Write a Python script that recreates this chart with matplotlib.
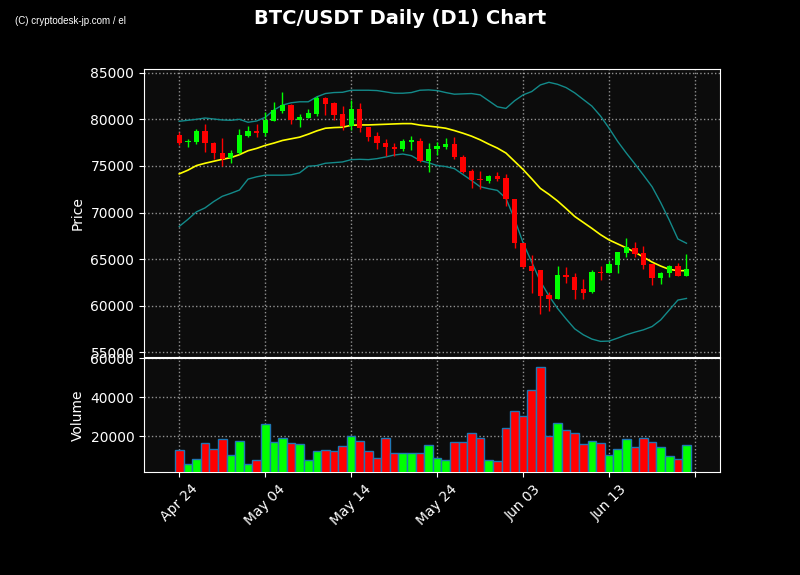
import matplotlib
matplotlib.use("Agg")
import matplotlib.pyplot as plt
import numpy as np

# ---------------- data ----------------
opens = [78330, 77540, 77590, 78760, 77480, 76410, 75850, 76340, 78260, 78760,
         78580, 79860, 80890, 81530, 79970, 80180, 80600, 82270, 81740, 80570,
         79330, 81100, 79180, 78230, 77480, 77060, 76840, 77520, 77690, 75490,
         76790, 77070, 77360, 75930, 74460, 73610, 73390, 73930, 73720, 71470,
         66750, 64220, 63860, 61110, 60760, 63310, 63100, 61760, 61450, 63630,
         63520, 64370, 65630, 66230, 65670, 64470, 62920, 63490, 64260, 63240]
highs = [78615, 77870, 78970, 79470, 77550, 77980, 76700, 78940, 79250, 79470,
         80750, 81810, 82880, 81600, 80570, 81070, 82520, 82380, 81810, 81420,
         82060, 81700, 79220, 78620, 77870, 77450, 77870, 78190, 77980, 77450,
         77540, 77960, 78070, 76140, 74640, 74500, 74040, 74320, 74110, 71470,
         66750, 65470, 63860, 61470, 64290, 64120, 63490, 62850, 63840, 64300,
         64750, 65740, 67220, 66870, 66370, 64470, 63660, 64400, 64540, 65600]
lows = [77270, 77030, 77340, 76490, 75780, 75000, 75350, 76270, 78080, 78120,
        78190, 79790, 80710, 79470, 79150, 80110, 80360, 80430, 79900, 78830,
        78870, 78690, 77620, 76770, 76030, 76100, 76560, 76700, 75420, 74350,
        76210, 76860, 75710, 74220, 72610, 72500, 73220, 73360, 70680, 66180,
        64000, 61360, 59150, 59400, 60760, 62430, 60710, 60670, 61410, 62710,
        63500, 63560, 65250, 65250, 63910, 62220, 62360, 63130, 63240, 63240]
closes = [77410, 77690, 78760, 77410, 76340, 75780, 76410, 78330, 78760, 78550,
          79930, 81000, 81530, 79930, 80250, 80680, 82270, 81670, 80500, 79330,
          81100, 79110, 78150, 77410, 76990, 76840, 77620, 77730, 75490, 76840,
          77140, 77360, 75930, 74390, 73540, 73470, 73930, 73640, 71430, 66680,
          64110, 63760, 61010, 60760, 63330, 63030, 61660, 61410, 63630, 63560,
          64510, 65740, 66270, 65530, 64400, 62920, 63560, 64260, 63240, 63940]
volumes = [12830, 5640, 8210, 16420, 13510, 18470, 10260, 17440, 5990, 7700,
           26160, 16930, 18980, 16420, 15900, 7700, 12310, 12830, 12310, 14880,
           20010, 17440, 12310, 8720, 18980, 11290, 11290, 11290, 11290, 15390,
           8720, 7700, 16930, 16930, 21550, 18980, 7700, 7180, 24110, 32830,
           30270, 43610, 55400, 20010, 26680, 23090, 21550, 15900, 17440, 16420,
           10260, 13340, 18470, 14360, 18980, 16930, 14360, 9750, 8210, 15390]
bb_mid = [74149, 74539, 75036, 75284, 75497, 75709, 75887, 76206, 76631, 76879,
          77199, 77447, 77730, 77908, 78085, 78404, 78759, 79043, 79114, 79149,
          79362, 79397, 79397, 79433, 79468, 79504, 79539, 79539, 79380, 79270,
          79170, 79043, 78794, 78510, 78191, 77801, 77340, 76914, 76383, 75497,
          74610, 73617, 72589, 71950, 71241, 70426, 69575, 68937, 68298, 67625,
          67057, 66632, 66206, 65745, 65213, 64681, 64255, 63901, 63759, 63759]
bb_upper = [79787, 79894, 80000, 80140, 80035, 79930, 79894, 80000, 79680, 79820,
            80213, 80993, 81525, 81773, 81880, 81880, 82411, 82766, 82872, 82900,
            83120, 83120, 83120, 83085, 82943, 82800, 82800, 82872, 83120, 83156,
            83085, 82872, 82695, 82730, 82766, 82624, 81986, 81347, 81170, 81986,
            82624, 82979, 83688, 83972, 83759, 83404, 82837, 82128, 81418, 80355,
            79043, 77625, 76383, 75213, 74007, 72766, 71064, 69185, 67163, 66702]
bb_lower = [68511, 69256, 70071, 70497, 71170, 71738, 72057, 72411, 73582, 73830,
            74007, 74007, 74007, 74042, 74255, 74964, 75035, 75284, 75355, 75426,
            75674, 75709, 75674, 75780, 75958, 76170, 76277, 76099, 75585, 75337,
            75036, 74929, 74716, 74078, 73440, 72766, 72553, 72376, 71525, 69291,
            66738, 64681, 62624, 61064, 59716, 58582, 57518, 56880, 56419, 56171,
            56206, 56525, 56880, 57164, 57412, 57766, 58475, 59539, 60603, 60780]
tick_idx = [0, 10, 20, 30, 40, 50, 60]
tick_labels = ["Apr 24", "May 04", "May 14", "May 24", "Jun 03", "Jun 13", ""]
price_ticks = [55000, 60000, 65000, 70000, 75000, 80000, 85000]
volume_ticks = [20000, 40000, 60000]

# ---------------- style ----------------
UP = "#00ff00"
DOWN = "#ff0000"
AX_BG = "#0c0c0c"

idx = np.arange(len(opens))
o = np.array(opens); c = np.array(closes)
h = np.array(highs); l = np.array(lows)
cols = [UP if cc >= oo else DOWN for oo, cc in zip(o, c)]

fig = plt.figure(figsize=(8, 5.75), dpi=100, facecolor="black")
ax1 = fig.add_axes([0.18, 0.37965, 0.72, 0.4998])
ax2 = fig.add_axes([0.18, 0.17861, 0.72, 0.19965], sharex=ax1)

for ax in (ax1, ax2):
    ax.set_facecolor(AX_BG)
    for s in ax.spines.values():
        s.set_color("white")
    ax.tick_params(colors="white", labelsize=10)
    ax.grid(True, color="white", linestyle=":", linewidth=1, alpha=0.55)
    ax.set_axisbelow(True)

# Bollinger bands and SMA
ax1.plot(idx, bb_upper, color="#138a8a", lw=1, zorder=2)
ax1.plot(idx, bb_lower, color="#138a8a", lw=1, zorder=2)
ax1.plot(idx, bb_mid, color="#ffff00", lw=1.2, zorder=2)

# candles
ax1.vlines(idx, l, h, colors=cols, lw=1, zorder=3)
body_h = np.maximum(np.abs(c - o), 60)
ax1.bar(idx, body_h, bottom=np.minimum(o, c), width=0.62, color=cols, lw=0, zorder=4)

ax1.set_ylim(54528, 85365)
ax1.set_yticks(price_ticks)
ax1.set_ylabel("Price", color="white", fontsize=10)
ax1.tick_params(labelbottom=False)

# volume
ax2.bar(idx, volumes, width=1.0, color=cols, edgecolor="#1f77b4", lw=1, zorder=3)
ax2.set_ylim(1540, 60400)
ax2.set_yticks(volume_ticks)
ax2.set_ylabel("Volume", color="white", fontsize=10)
ax2.set_xticks(tick_idx)
ax2.set_xticklabels(tick_labels, rotation=45)
ax2.set_xlim(-4.1, 62.9)

fig.suptitle("BTC/USDT Daily (D1) Chart", color="white", fontsize=14,
             fontweight="bold", y=0.985)
fig.text(0.019, 0.963, "(C) cryptodesk-jp.com / el", color="white", fontsize=7,
         family=["Liberation Sans Narrow", "Liberation Sans", "DejaVu Sans"],
         va="center", ha="left")

fig.savefig("out.png", dpi=100, facecolor="black")
